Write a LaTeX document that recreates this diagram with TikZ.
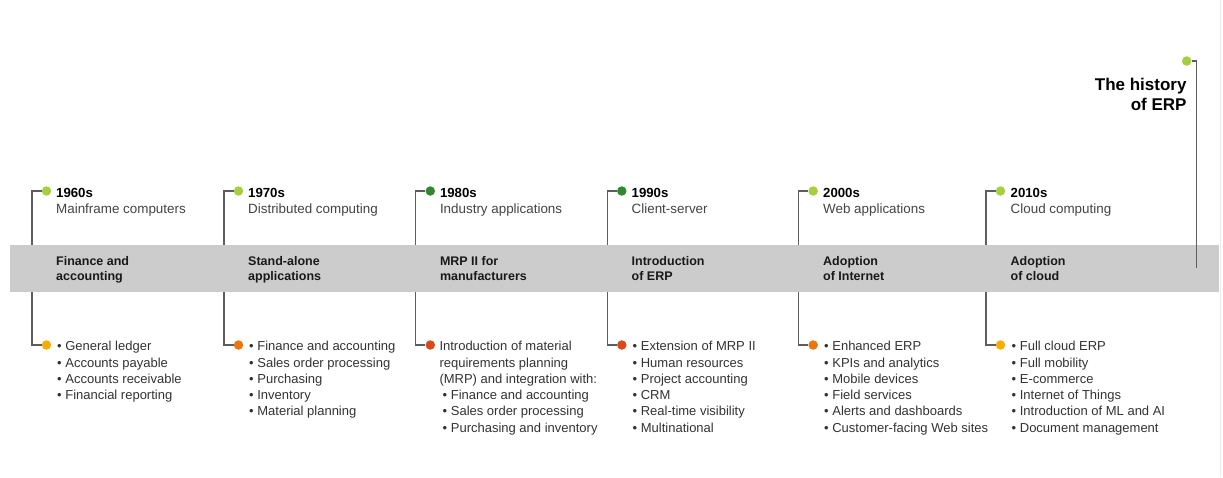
\documentclass[tikz,border=0pt]{standalone}
\usepackage{fontspec}
\setmainfont{Liberation Sans}
\definecolor{lgreen}{HTML}{A6CF3C}
\definecolor{dgreen}{HTML}{2E8B2B}
\definecolor{yorange}{HTML}{F7AE00}
\definecolor{morange}{HTML}{EC7510}
\definecolor{rorange}{HTML}{D84A17}
\definecolor{linegray}{HTML}{5E5E5E}
\definecolor{bandgray}{HTML}{CCCCCC}
\definecolor{stripgray}{HTML}{EBEBEB}
\definecolor{subgray}{HTML}{444444}
\definecolor{listgray}{HTML}{333333}
\newcommand\mylines[2]{\parbox[t]{#1}{\raggedright #2}}
\begin{document}
\begin{tikzpicture}[x=1pt,y=-1pt,
  conn/.style={draw=linegray, line width=1.2pt},
  dotbase/.style={circle, inner sep=0pt, minimum size=9.5pt},
  yeartxt/.style={anchor=base west, inner sep=0pt, text=black, font=\fontsize{13.2}{16}\selectfont\bfseries},
  subtxt/.style={anchor=base west, inner sep=0pt, text=subgray, font=\fontsize{13.4}{16}\selectfont},
  bandtxt/.style={anchor=base west, inner sep=0pt, text=black!90, font=\fontsize{12.5}{15}\selectfont\bfseries},
  listtxt/.style={anchor=base west, inner sep=0pt, text=listgray, font=\fontsize{13}{16.3}\selectfont},
  titletxt/.style={anchor=base east, inner sep=0pt, text=black, align=right, font=\fontsize{17}{19.3}\selectfont\bfseries},
  band/.style={fill=bandgray, inner sep=0pt, minimum width=1209pt, minimum height=47pt}
]
\useasboundingbox (0,0) rectangle (1223,477);
\fill[white] (0,0) rectangle (1223,477);
\draw[stripgray, line width=1.5pt] (1220.5,0) -- (1220.5,477);

% dots
\node[dotbase, fill=lgreen] (t1) at (46.5,191) {};
\node[dotbase, fill=lgreen] (t2) at (238.5,191) {};
\node[dotbase, fill=dgreen] (t3) at (430.3,191) {};
\node[dotbase, fill=dgreen] (t4) at (621.8,191) {};
\node[dotbase, fill=lgreen] (t5) at (813.2,191) {};
\node[dotbase, fill=lgreen] (t6) at (1000.5,191) {};
\node[dotbase, fill=yorange] (b1) at (46.5,345) {};
\node[dotbase, fill=morange] (b2) at (238.5,345) {};
\node[dotbase, fill=rorange] (b3) at (430.3,345) {};
\node[dotbase, fill=rorange] (b4) at (621.8,345) {};
\node[dotbase, fill=morange] (b5) at (813.2,345) {};
\node[dotbase, fill=yorange] (b6) at (1000.5,345) {};
\node[dotbase, fill=lgreen] (tt) at (1186.7,61) {};

% column corner coordinates
\coordinate (c1t) at (32,191);   \coordinate (c1b) at (32,345);
\coordinate (c2t) at (224,191);  \coordinate (c2b) at (224,345);
\coordinate (c3t) at (415.8,191);  \coordinate (c3b) at (415.8,345);
\coordinate (c4t) at (607.3,191);  \coordinate (c4b) at (607.3,345);
\coordinate (c5t) at (798.8,191);  \coordinate (c5b) at (798.8,345);
\coordinate (c6t) at (986,191);  \coordinate (c6b) at (986,345);
\coordinate (ttc) at (1196.7,61); \coordinate (tte) at (1196.7,268);

% connectors
\draw[conn] (t1) -- (c1t) -- (c1b) -- (b1);
\draw[conn] (t2) -- (c2t) -- (c2b) -- (b2);
\draw[conn] (t3) -- (c3t) -- (c3b) -- (b3);
\draw[conn] (t4) -- (c4t) -- (c4b) -- (b4);
\draw[conn] (t5) -- (c5t) -- (c5b) -- (b5);
\draw[conn] (t6) -- (c6t) -- (c6b) -- (b6);

% band
\node[band] (band) at (614.5,268.5) {};

% title
\node[titletxt] (title) at (1186.7,110) {The history\\of ERP};
\draw[conn] (tt) -- (ttc) -- (tte);

% years
\node[yeartxt] (y1) at (56,197.5) {1960s};
\node[yeartxt] (y2) at (248,197.5) {1970s};
\node[yeartxt] (y3) at (439.8,197.5) {1980s};
\node[yeartxt] (y4) at (631.5,197.5) {1990s};
\node[yeartxt] (y5) at (823,197.5) {2000s};
\node[yeartxt] (y6) at (1010.5,197.5) {2010s};

\node[subtxt] (s1) at (56,213.4) {Mainframe computers};
\node[subtxt] (s2) at (248,213.4) {Distributed computing};
\node[subtxt] (s3) at (439.8,213.4) {Industry applications};
\node[subtxt] (s4) at (631.5,213.4) {Client-server};
\node[subtxt] (s5) at (823,213.4) {Web applications};
\node[subtxt] (s6) at (1010.5,213.4) {Cloud computing};

% band texts
\node[bandtxt] (m1) at (56,265.5) {\mylines{150pt}{Finance and\\accounting}};
\node[bandtxt] (m2) at (248,265.5) {\mylines{150pt}{Stand-alone\\applications}};
\node[bandtxt] (m3) at (439.8,265.5) {\mylines{150pt}{MRP II for\\manufacturers}};
\node[bandtxt] (m4) at (631.5,265.5) {\mylines{150pt}{Introduction\\of ERP}};
\node[bandtxt] (m5) at (823,265.5) {\mylines{150pt}{Adoption\\of Internet}};
\node[bandtxt] (m6) at (1010.5,265.5) {\mylines{150pt}{Adoption\\of cloud}};

% lists
\node[listtxt] (l1) at (57,350.7) {\mylines{180pt}{• General ledger\\• Accounts payable\\• Accounts receivable\\• Financial reporting}};
\node[listtxt] (l2) at (249,350.7) {\mylines{180pt}{• Finance and accounting\\• Sales order processing\\• Purchasing\\• Inventory\\• Material planning}};
\node[listtxt] (l3) at (439.3,350.7) {\mylines{180pt}{Introduction of material\\requirements planning\\(MRP) and integration with:\\\hspace*{3.2pt}• Finance and accounting\\\hspace*{3.2pt}• Sales order processing\\\hspace*{3.2pt}• Purchasing and inventory}};
\node[listtxt] (l4) at (632.5,350.7) {\mylines{180pt}{• Extension of MRP II\\• Human resources\\• Project accounting\\• CRM\\• Real-time visibility\\• Multinational}};
\node[listtxt] (l5) at (824,350.7) {\mylines{180pt}{• Enhanced ERP\\• KPIs and analytics\\• Mobile devices\\• Field services\\• Alerts and dashboards\\• Customer-facing Web sites}};
\node[listtxt] (l6) at (1011.5,350.7) {\mylines{180pt}{• Full cloud ERP\\• Full mobility\\• E-commerce\\• Internet of Things\\• Introduction of ML and AI\\• Document management}};
\end{tikzpicture}
\end{document}
